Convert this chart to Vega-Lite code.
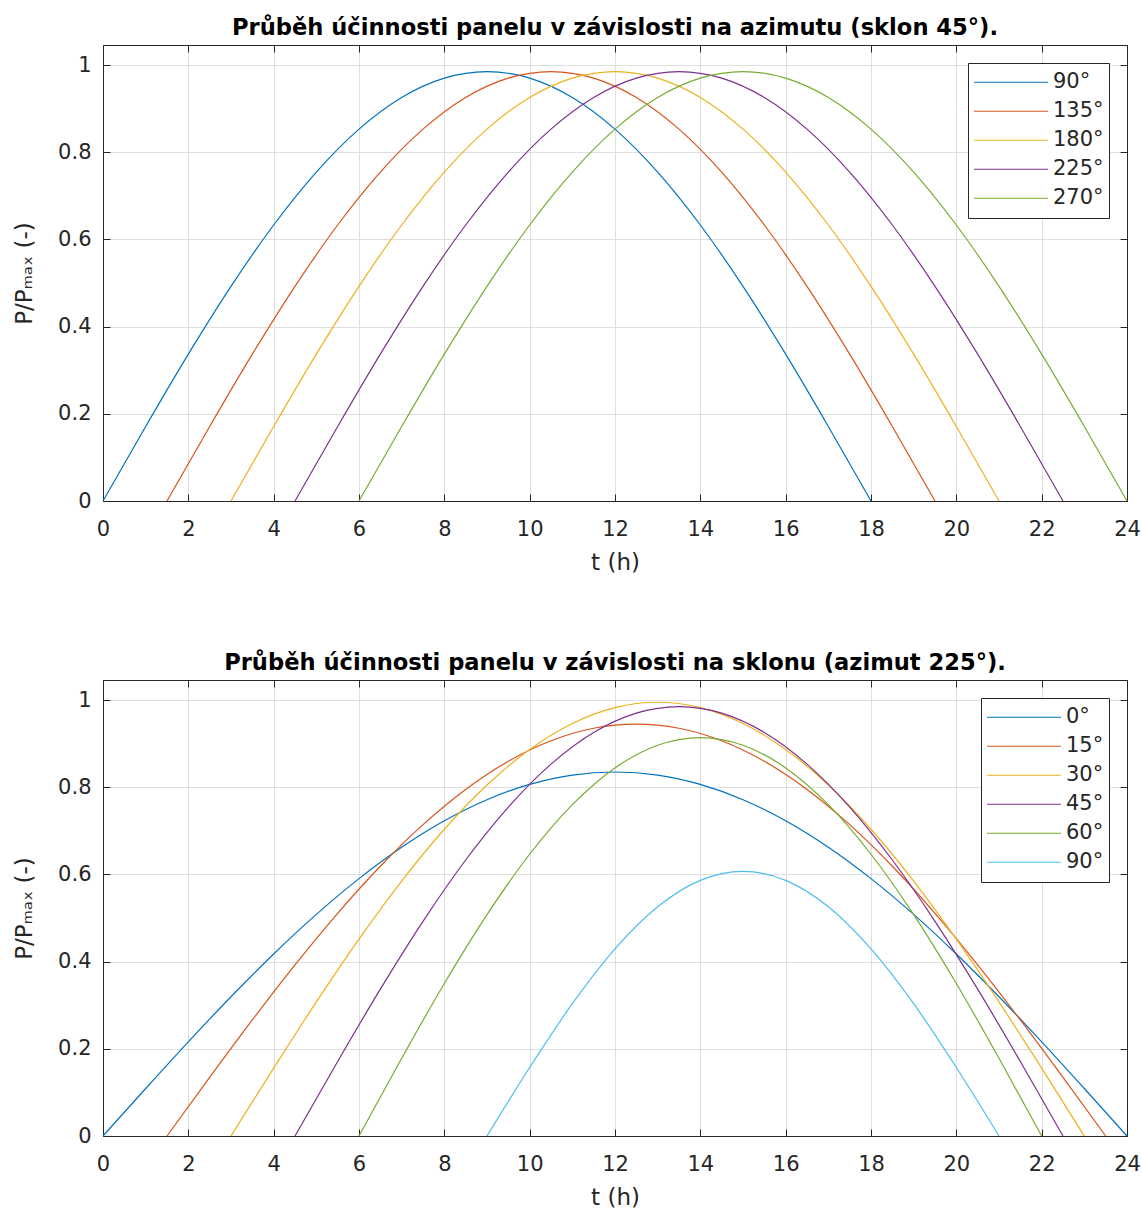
{
  "$schema": "https://vega.github.io/schema/vega-lite/v6.json",
  "background": "white",
  "padding": {"left": 13, "top": 16, "right": 5, "bottom": 5},
  "bounds": "flush",
  "spacing": 179,
  "resolve": {"scale": {"color": "independent"}, "legend": {"color": "independent"}},
  "config": {
    "font": "DejaVu Sans",
    "view": {"stroke": "#262626", "strokeWidth": 1},
    "axis": {
      "domainColor": "#262626",
      "tickColor": "#262626",
      "labelColor": "#262626",
      "titleColor": "#262626",
      "labelFontSize": 21,
      "titleFontSize": 23,
      "titleFontWeight": "normal",
      "gridColor": "#dfdfdf",
      "gridWidth": 1,
      "labelFlush": false,
      "labelOverlap": false
    },
    "legend": {
      "orient": "top-right",
      "offset": 18,
      "symbolType": "stroke",
      "symbolSize": 5476,
      "symbolStrokeWidth": 1.2,
      "labelFontSize": 21,
      "labelColor": "#262626",
      "labelOffset": 4,
      "strokeColor": "#262626",
      "fillColor": "white",
      "padding": 5,
      "clipHeight": 28.5,
      "rowPadding": 0
    },
    "title": {"fontSize": 22.6, "fontWeight": "bold", "color": "#000000", "anchor": "middle", "offset": 5}
  },
  "datasets": {
    "top": [
      {"t":0,"p":0,"s":"90°"},{"t":1,"p":0.1710,"s":"90°"},{"t":2,"p":0.3369,"s":"90°"},{"t":3,"p":0.4925,"s":"90°"},{"t":4,"p":0.6331,"s":"90°"},{"t":5,"p":0.7545,"s":"90°"},{"t":6,"p":0.8530,"s":"90°"},{"t":7,"p":0.9256,"s":"90°"},{"t":8,"p":0.9700,"s":"90°"},{"t":9,"p":0.985,"s":"90°"},{"t":10,"p":0.9700,"s":"90°"},{"t":11,"p":0.9256,"s":"90°"},{"t":12,"p":0.8530,"s":"90°"},{"t":13,"p":0.7545,"s":"90°"},{"t":14,"p":0.6331,"s":"90°"},{"t":15,"p":0.4925,"s":"90°"},{"t":16,"p":0.3369,"s":"90°"},{"t":17,"p":0.1710,"s":"90°"},{"t":18,"p":0,"s":"90°"},
      {"t":1.5,"p":0,"s":"135°"},{"t":2.5,"p":0.1710,"s":"135°"},{"t":3.5,"p":0.3369,"s":"135°"},{"t":4.5,"p":0.4925,"s":"135°"},{"t":5.5,"p":0.6331,"s":"135°"},{"t":6.5,"p":0.7545,"s":"135°"},{"t":7.5,"p":0.8530,"s":"135°"},{"t":8.5,"p":0.9256,"s":"135°"},{"t":9.5,"p":0.9700,"s":"135°"},{"t":10.5,"p":0.985,"s":"135°"},{"t":11.5,"p":0.9700,"s":"135°"},{"t":12.5,"p":0.9256,"s":"135°"},{"t":13.5,"p":0.8530,"s":"135°"},{"t":14.5,"p":0.7545,"s":"135°"},{"t":15.5,"p":0.6331,"s":"135°"},{"t":16.5,"p":0.4925,"s":"135°"},{"t":17.5,"p":0.3369,"s":"135°"},{"t":18.5,"p":0.1710,"s":"135°"},{"t":19.5,"p":0,"s":"135°"},
      {"t":3,"p":0,"s":"180°"},{"t":4,"p":0.1710,"s":"180°"},{"t":5,"p":0.3369,"s":"180°"},{"t":6,"p":0.4925,"s":"180°"},{"t":7,"p":0.6331,"s":"180°"},{"t":8,"p":0.7545,"s":"180°"},{"t":9,"p":0.8530,"s":"180°"},{"t":10,"p":0.9256,"s":"180°"},{"t":11,"p":0.9700,"s":"180°"},{"t":12,"p":0.985,"s":"180°"},{"t":13,"p":0.9700,"s":"180°"},{"t":14,"p":0.9256,"s":"180°"},{"t":15,"p":0.8530,"s":"180°"},{"t":16,"p":0.7545,"s":"180°"},{"t":17,"p":0.6331,"s":"180°"},{"t":18,"p":0.4925,"s":"180°"},{"t":19,"p":0.3369,"s":"180°"},{"t":20,"p":0.1710,"s":"180°"},{"t":21,"p":0,"s":"180°"},
      {"t":4.5,"p":0,"s":"225°"},{"t":5.5,"p":0.1710,"s":"225°"},{"t":6.5,"p":0.3369,"s":"225°"},{"t":7.5,"p":0.4925,"s":"225°"},{"t":8.5,"p":0.6331,"s":"225°"},{"t":9.5,"p":0.7545,"s":"225°"},{"t":10.5,"p":0.8530,"s":"225°"},{"t":11.5,"p":0.9256,"s":"225°"},{"t":12.5,"p":0.9700,"s":"225°"},{"t":13.5,"p":0.985,"s":"225°"},{"t":14.5,"p":0.9700,"s":"225°"},{"t":15.5,"p":0.9256,"s":"225°"},{"t":16.5,"p":0.8530,"s":"225°"},{"t":17.5,"p":0.7545,"s":"225°"},{"t":18.5,"p":0.6331,"s":"225°"},{"t":19.5,"p":0.4925,"s":"225°"},{"t":20.5,"p":0.3369,"s":"225°"},{"t":21.5,"p":0.1710,"s":"225°"},{"t":22.5,"p":0,"s":"225°"},
      {"t":6,"p":0,"s":"270°"},{"t":7,"p":0.1710,"s":"270°"},{"t":8,"p":0.3369,"s":"270°"},{"t":9,"p":0.4925,"s":"270°"},{"t":10,"p":0.6331,"s":"270°"},{"t":11,"p":0.7545,"s":"270°"},{"t":12,"p":0.8530,"s":"270°"},{"t":13,"p":0.9256,"s":"270°"},{"t":14,"p":0.9700,"s":"270°"},{"t":15,"p":0.985,"s":"270°"},{"t":16,"p":0.9700,"s":"270°"},{"t":17,"p":0.9256,"s":"270°"},{"t":18,"p":0.8530,"s":"270°"},{"t":19,"p":0.7545,"s":"270°"},{"t":20,"p":0.6331,"s":"270°"},{"t":21,"p":0.4925,"s":"270°"},{"t":22,"p":0.3369,"s":"270°"},{"t":23,"p":0.1710,"s":"270°"},{"t":24,"p":0,"s":"270°"}
    ],
    "bottom": [
      {"t":0,"p":0,"s":"0°"},{"t":1,"p":0.1090,"s":"0°"},{"t":2,"p":0.2161,"s":"0°"},{"t":3,"p":0.3195,"s":"0°"},{"t":4,"p":0.4175,"s":"0°"},{"t":5,"p":0.5083,"s":"0°"},{"t":6,"p":0.5904,"s":"0°"},{"t":7,"p":0.6624,"s":"0°"},{"t":8,"p":0.7231,"s":"0°"},{"t":9,"p":0.7714,"s":"0°"},{"t":10,"p":0.8065,"s":"0°"},{"t":11,"p":0.8279,"s":"0°"},{"t":12,"p":0.835,"s":"0°"},{"t":13,"p":0.8279,"s":"0°"},{"t":14,"p":0.8065,"s":"0°"},{"t":15,"p":0.7714,"s":"0°"},{"t":16,"p":0.7231,"s":"0°"},{"t":17,"p":0.6624,"s":"0°"},{"t":18,"p":0.5904,"s":"0°"},{"t":19,"p":0.5083,"s":"0°"},{"t":20,"p":0.4175,"s":"0°"},{"t":21,"p":0.3195,"s":"0°"},{"t":22,"p":0.2161,"s":"0°"},{"t":23,"p":0.1090,"s":"0°"},{"t":24,"p":0,"s":"0°"},
      {"t":1.5,"p":0,"s":"15°"},{"t":2.5,"p":0.1345,"s":"15°"},{"t":3.5,"p":0.2662,"s":"15°"},{"t":4.5,"p":0.3926,"s":"15°"},{"t":5.5,"p":0.5109,"s":"15°"},{"t":6.5,"p":0.6188,"s":"15°"},{"t":7.5,"p":0.7142,"s":"15°"},{"t":8.5,"p":0.7950,"s":"15°"},{"t":9.5,"p":0.8596,"s":"15°"},{"t":10.5,"p":0.9067,"s":"15°"},{"t":11.5,"p":0.9354,"s":"15°"},{"t":12.5,"p":0.945,"s":"15°"},{"t":13.5,"p":0.9354,"s":"15°"},{"t":14.5,"p":0.9067,"s":"15°"},{"t":15.5,"p":0.8596,"s":"15°"},{"t":16.5,"p":0.7950,"s":"15°"},{"t":17.5,"p":0.7142,"s":"15°"},{"t":18.5,"p":0.6188,"s":"15°"},{"t":19.5,"p":0.5109,"s":"15°"},{"t":20.5,"p":0.3926,"s":"15°"},{"t":21.5,"p":0.2662,"s":"15°"},{"t":22.5,"p":0.1345,"s":"15°"},{"t":23.5,"p":0,"s":"15°"},
      {"t":3,"p":0,"s":"30°"},{"t":4,"p":0.1557,"s":"30°"},{"t":5,"p":0.3075,"s":"30°"},{"t":6,"p":0.4517,"s":"30°"},{"t":7,"p":0.5849,"s":"30°"},{"t":8,"p":0.7036,"s":"30°"},{"t":9,"p":0.8050,"s":"30°"},{"t":10,"p":0.8866,"s":"30°"},{"t":11,"p":0.9463,"s":"30°"},{"t":12,"p":0.9828,"s":"30°"},{"t":13,"p":0.995,"s":"30°"},{"t":14,"p":0.9828,"s":"30°"},{"t":15,"p":0.9463,"s":"30°"},{"t":16,"p":0.8866,"s":"30°"},{"t":17,"p":0.8050,"s":"30°"},{"t":18,"p":0.7036,"s":"30°"},{"t":19,"p":0.5849,"s":"30°"},{"t":20,"p":0.4517,"s":"30°"},{"t":21,"p":0.3075,"s":"30°"},{"t":22,"p":0.1557,"s":"30°"},{"t":23,"p":0,"s":"30°"},
      {"t":4.5,"p":0,"s":"45°"},{"t":5.5,"p":0.1710,"s":"45°"},{"t":6.5,"p":0.3369,"s":"45°"},{"t":7.5,"p":0.4925,"s":"45°"},{"t":8.5,"p":0.6331,"s":"45°"},{"t":9.5,"p":0.7545,"s":"45°"},{"t":10.5,"p":0.8530,"s":"45°"},{"t":11.5,"p":0.9256,"s":"45°"},{"t":12.5,"p":0.9700,"s":"45°"},{"t":13.5,"p":0.985,"s":"45°"},{"t":14.5,"p":0.9700,"s":"45°"},{"t":15.5,"p":0.9256,"s":"45°"},{"t":16.5,"p":0.8530,"s":"45°"},{"t":17.5,"p":0.7545,"s":"45°"},{"t":18.5,"p":0.6331,"s":"45°"},{"t":19.5,"p":0.4925,"s":"45°"},{"t":20.5,"p":0.3369,"s":"45°"},{"t":21.5,"p":0.1710,"s":"45°"},{"t":22.5,"p":0,"s":"45°"},
      {"t":6,"p":0,"s":"60°"},{"t":7,"p":0.1783,"s":"60°"},{"t":8,"p":0.3498,"s":"60°"},{"t":9,"p":0.5078,"s":"60°"},{"t":10,"p":0.6463,"s":"60°"},{"t":11,"p":0.7600,"s":"60°"},{"t":12,"p":0.8444,"s":"60°"},{"t":13,"p":0.8964,"s":"60°"},{"t":14,"p":0.914,"s":"60°"},{"t":15,"p":0.8964,"s":"60°"},{"t":16,"p":0.8444,"s":"60°"},{"t":17,"p":0.7600,"s":"60°"},{"t":18,"p":0.6463,"s":"60°"},{"t":19,"p":0.5078,"s":"60°"},{"t":20,"p":0.3498,"s":"60°"},{"t":21,"p":0.1783,"s":"60°"},{"t":22,"p":0,"s":"60°"},
      {"t":9,"p":0,"s":"90°"},{"t":10,"p":0.1571,"s":"90°"},{"t":11,"p":0.3035,"s":"90°"},{"t":12,"p":0.4292,"s":"90°"},{"t":13,"p":0.5257,"s":"90°"},{"t":14,"p":0.5863,"s":"90°"},{"t":15,"p":0.607,"s":"90°"},{"t":16,"p":0.5863,"s":"90°"},{"t":17,"p":0.5257,"s":"90°"},{"t":18,"p":0.4292,"s":"90°"},{"t":19,"p":0.3035,"s":"90°"},{"t":20,"p":0.1571,"s":"90°"},{"t":21,"p":0,"s":"90°"}
    ]
  },
  "vconcat": [
    {
      "width": 1024,
      "height": 456,
      "title": {"text": "Průběh účinnosti panelu v závislosti na azimutu (sklon 45°)."},
      "data": {"name": "top"},
      "layer": [
        {
          "mark": {"type": "line", "strokeWidth": 1.2, "interpolate": "monotone"},
          "encoding": {
            "x": {"field": "t", "type": "quantitative", "scale": {"domain": [0, 24], "nice": false, "zero": false},
                  "axis": {"orient": "bottom", "values": [0,2,4,6,8,10,12,14,16,18,20,22,24], "title": "t (h)", "grid": true, "tickSize": -7, "labelPadding": 24, "titlePadding": 12}},
            "y": {"field": "p", "type": "quantitative", "scale": {"domain": [0, 1.046], "nice": false},
                  "axis": {"orient": "left", "values": [0,0.2,0.4,0.6,0.8,1], "format": ".1~f", "title": "P/Pₘₐₓ (-)", "grid": true, "tickSize": -7, "labelPadding": 19, "titlePadding": 21}},
            "color": {"field": "s", "type": "nominal", "title": null,
                      "scale": {"domain": ["90°","135°","180°","225°","270°"], "range": ["#0072BD","#D95319","#EDB120","#7E2F8E","#77AC30"]}}
          }
        },
        {
          "mark": {"type": "line", "opacity": 0},
          "encoding": {
            "x": {"field": "t", "type": "quantitative", "axis": {"orient": "top", "values": [0,2,4,6,8,10,12,14,16,18,20,22,24], "labels": false, "title": null, "grid": false, "tickSize": -7}},
            "y": {"field": "p", "type": "quantitative", "axis": {"orient": "right", "values": [0,0.2,0.4,0.6,0.8,1], "labels": false, "title": null, "grid": false, "tickSize": -7}},
            "detail": {"field": "s"}
          }
        }
      ],
      "resolve": {"axis": {"x": "independent", "y": "independent"}}
    },
    {
      "width": 1024,
      "height": 456,
      "title": {"text": "Průběh účinnosti panelu v závislosti na sklonu (azimut 225°)."},
      "data": {"name": "bottom"},
      "layer": [
        {
          "mark": {"type": "line", "strokeWidth": 1.2, "interpolate": "monotone"},
          "encoding": {
            "x": {"field": "t", "type": "quantitative", "scale": {"domain": [0, 24], "nice": false, "zero": false},
                  "axis": {"orient": "bottom", "values": [0,2,4,6,8,10,12,14,16,18,20,22,24], "title": "t (h)", "grid": true, "tickSize": -7, "labelPadding": 24, "titlePadding": 12}},
            "y": {"field": "p", "type": "quantitative", "scale": {"domain": [0, 1.046], "nice": false},
                  "axis": {"orient": "left", "values": [0,0.2,0.4,0.6,0.8,1], "format": ".1~f", "title": "P/Pₘₐₓ (-)", "grid": true, "tickSize": -7, "labelPadding": 19, "titlePadding": 21}},
            "color": {"field": "s", "type": "nominal", "title": null,
                      "scale": {"domain": ["0°","15°","30°","45°","60°","90°"], "range": ["#0072BD","#D95319","#EDB120","#7E2F8E","#77AC30","#4DBEEE"]}}
          }
        },
        {
          "mark": {"type": "line", "opacity": 0},
          "encoding": {
            "x": {"field": "t", "type": "quantitative", "axis": {"orient": "top", "values": [0,2,4,6,8,10,12,14,16,18,20,22,24], "labels": false, "title": null, "grid": false, "tickSize": -7}},
            "y": {"field": "p", "type": "quantitative", "axis": {"orient": "right", "values": [0,0.2,0.4,0.6,0.8,1], "labels": false, "title": null, "grid": false, "tickSize": -7}},
            "detail": {"field": "s"}
          }
        }
      ],
      "resolve": {"axis": {"x": "independent", "y": "independent"}}
    }
  ]
}
